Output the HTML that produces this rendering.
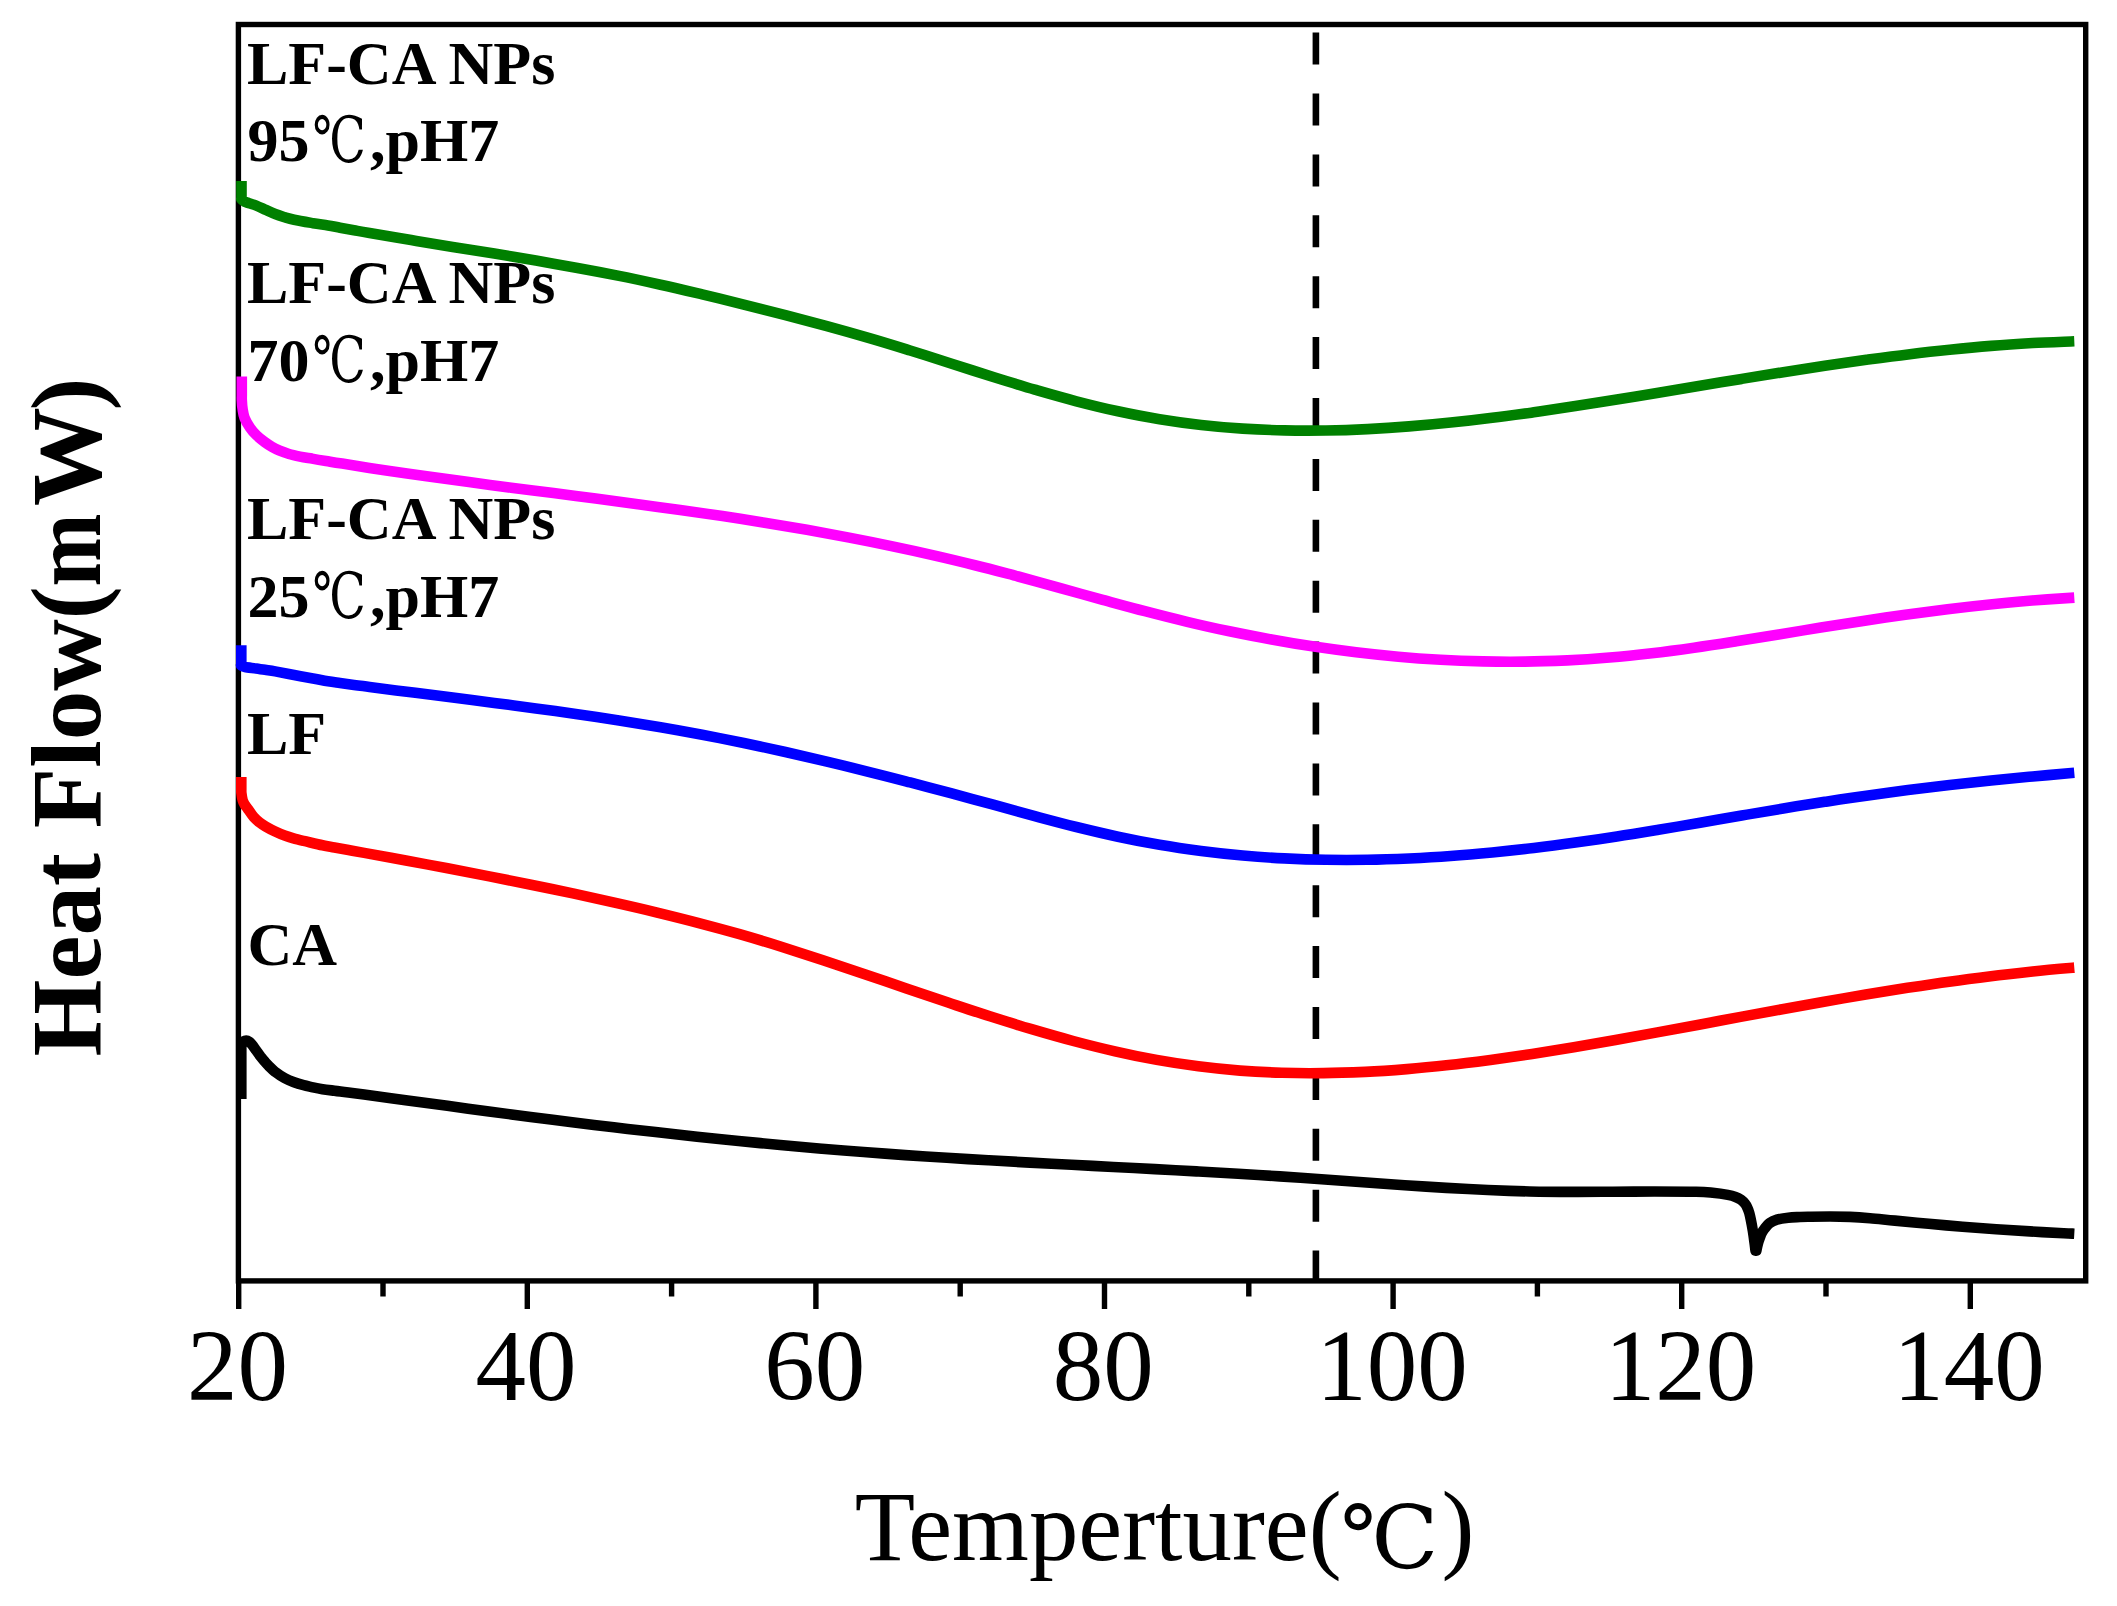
<!DOCTYPE html>
<html lang="en"><head><meta charset="utf-8"><title>DSC thermograms of CA, LF and LF-CA NPs</title>
<style>
html,body{margin:0;padding:0;background:#fff;}
body{width:2117px;height:1606px;overflow:hidden;}
svg{display:block;}
text{font-family:"Liberation Serif","Noto Serif CJK SC",serif;fill:#000;}
.lab{font-weight:bold;font-size:62px;}
.deg{font-size:63.7px;font-weight:normal;font-family:"DejaVu Serif","Liberation Serif","Noto Serif CJK SC",serif;}
.tick{font-size:101px;text-anchor:middle;}
.xt{font-size:98.8px;}
.degx{font-family:"DejaVu Serif","Liberation Serif","Noto Serif CJK SC",serif;font-size:87.5px;}
.yt{font-size:99px;font-weight:bold;}
</style></head><body>
<svg width="2117" height="1606" viewBox="0 0 2117 1606">
<rect x="0" y="0" width="2117" height="1606" fill="#ffffff"/>
<text class="lab" x="247.0" y="83.8">LF-CA NPs</text>
<text class="lab" x="247.5" y="160.9">95<tspan class="deg" dx="3" dy="1" textLength="53.3" lengthAdjust="spacingAndGlyphs">℃</tspan><tspan dx="4.2" dy="-1">,pH7</tspan></text>
<text class="lab" x="247.0" y="303.0">LF-CA NPs</text>
<text class="lab" x="247.5" y="380.9">70<tspan class="deg" dx="3" dy="1" textLength="53.3" lengthAdjust="spacingAndGlyphs">℃</tspan><tspan dx="4.2" dy="-1">,pH7</tspan></text>
<text class="lab" x="247.0" y="538.6">LF-CA NPs</text>
<text class="lab" x="247.5" y="617.3">25<tspan class="deg" dx="3" dy="1" textLength="53.3" lengthAdjust="spacingAndGlyphs">℃</tspan><tspan dx="4.2" dy="-1">,pH7</tspan></text>
<text class="lab" x="247.0" y="754.2">LF</text>
<text class="lab" x="247.5" y="965.2">CA</text>
<line x1="1315.9" y1="32.6" x2="1315.9" y2="1280.9" stroke="#000" stroke-width="6.6" stroke-dasharray="32 28.9"/>
<rect x="238.4" y="24.5" width="1847.3" height="1256.4" fill="none" stroke="#000" stroke-width="5.4"/>
<path d="M238.7 1280.9V1308.9M383.0 1280.9V1296.4M527.3 1280.9V1308.9M671.6 1280.9V1296.4M815.9 1280.9V1308.9M960.2 1280.9V1296.4M1104.5 1280.9V1308.9M1248.8 1280.9V1296.4M1393.1 1280.9V1308.9M1537.4 1280.9V1296.4M1681.7 1280.9V1308.9M1826.0 1280.9V1296.4M1970.3 1280.9V1308.9" stroke="#000" stroke-width="5.4" fill="none"/>
<g fill="none" stroke-width="10.6" stroke-linejoin="round" stroke-linecap="butt">
<path d="M241.5 181.1L241.5 198.6C241.5 198.7 241.0 198.8 241.5 199.3C242.0 199.8 243.2 200.9 244.5 201.6C245.8 202.2 247.0 202.5 249.0 203.2C251.0 203.9 253.5 204.5 256.3 205.6C259.1 206.7 262.7 208.5 265.8 209.9C268.9 211.3 272.1 212.8 275.2 214.0C278.3 215.2 281.4 216.2 284.5 217.2C287.6 218.1 289.4 218.7 294.1 219.7C298.9 220.7 307.4 222.2 313.0 223.2C318.6 224.1 323.5 224.7 328.0 225.4C332.5 226.1 335.7 226.9 340.0 227.7C344.3 228.5 349.1 229.3 354.0 230.2C358.9 231.1 360.1 231.4 369.6 233.0C379.1 234.6 397.4 237.8 411.2 240.1C425.0 242.4 438.8 244.6 452.7 246.9C466.6 249.1 480.4 251.3 494.3 253.6C508.2 255.9 522.0 258.2 535.9 260.6C549.8 263.0 563.6 265.4 577.5 268.0C591.4 270.5 605.2 273.1 619.1 275.9C633.0 278.7 646.8 281.7 660.6 284.7C674.5 287.8 688.3 291.1 702.2 294.4C716.1 297.7 729.9 301.2 743.8 304.6C757.7 308.1 771.5 311.6 785.4 315.1C799.2 318.7 813.0 322.3 826.9 326.1C840.8 329.9 854.6 333.8 868.5 337.9C882.4 341.9 896.2 346.2 910.1 350.5C924.0 354.8 937.8 359.3 951.7 363.7C965.6 368.1 979.4 372.6 993.3 377.0C1007.1 381.3 1020.9 385.6 1034.8 389.7C1048.7 393.7 1062.5 397.7 1076.4 401.3C1090.3 404.9 1104.1 408.3 1118.0 411.3C1131.9 414.3 1145.7 417.0 1159.6 419.2C1173.5 421.5 1187.3 423.4 1201.2 424.9C1215.1 426.5 1228.9 427.7 1242.7 428.6C1256.5 429.5 1270.4 430.1 1284.3 430.4C1298.2 430.7 1312.0 430.7 1325.9 430.5C1339.8 430.3 1353.7 429.8 1367.5 429.1C1381.3 428.4 1395.2 427.5 1409.0 426.4C1422.8 425.4 1436.7 424.1 1450.6 422.6C1464.5 421.2 1478.3 419.6 1492.2 417.8C1506.1 416.1 1519.9 414.2 1533.8 412.3C1547.7 410.3 1561.6 408.2 1575.4 406.1C1589.2 404.0 1603.1 401.8 1616.9 399.5C1630.8 397.3 1644.6 395.0 1658.5 392.7C1672.4 390.4 1686.2 388.1 1700.1 385.8C1714.0 383.5 1727.8 381.2 1741.7 378.9C1755.6 376.6 1769.5 374.3 1783.3 372.2C1797.1 370.0 1810.9 367.8 1824.8 365.7C1838.7 363.7 1852.5 361.7 1866.4 359.8C1880.3 357.9 1894.1 356.0 1908.0 354.4C1921.9 352.7 1935.8 351.1 1949.6 349.7C1963.4 348.3 1977.2 347.0 1991.1 345.9C2004.9 344.7 2018.8 343.8 2032.7 343.0C2046.6 342.3 2067.4 341.6 2074.3 341.3" stroke="#008000"/>
<path d="M241.8 376.4L241.8 396C241.8 396.7 241.7 397.8 241.8 400.0C241.9 402.2 242.1 406.0 242.6 409.0C243.1 412.0 243.4 414.9 244.6 418.0C245.8 421.1 247.9 424.5 249.9 427.4C251.9 430.3 254.0 432.9 256.5 435.3C259.0 437.8 262.2 440.2 264.8 442.1C267.4 444.0 269.5 445.4 272.0 446.8C274.5 448.2 276.9 449.5 279.7 450.7C282.5 451.9 285.6 453.0 289.0 454.0C292.4 455.0 296.2 455.8 300.0 456.6C303.8 457.4 307.7 457.9 312.0 458.6C316.3 459.4 321.0 460.2 326.0 461.0C331.0 461.8 332.4 462.1 342.2 463.6C351.9 465.2 370.4 468.1 384.5 470.2C398.6 472.3 412.6 474.3 426.7 476.3C440.8 478.3 454.9 480.2 469.0 482.1C483.1 484.0 497.1 485.8 511.2 487.7C525.3 489.5 539.4 491.3 553.5 493.1C567.6 495.0 581.6 496.8 595.7 498.6C609.8 500.4 623.9 502.3 638.0 504.2C652.1 506.1 666.1 508.0 680.2 510.0C694.3 512.0 708.4 514.0 722.5 516.1C736.6 518.2 750.6 520.4 764.7 522.7C778.8 525.0 792.8 527.3 806.9 529.8C821.0 532.3 835.1 534.9 849.2 537.6C863.3 540.3 877.3 543.1 891.4 546.1C905.5 549.0 919.6 552.1 933.7 555.4C947.8 558.6 961.8 562.0 975.9 565.5C990.0 569.0 1004.1 572.8 1018.2 576.5C1032.3 580.3 1046.3 584.2 1060.4 588.1C1074.5 592.0 1088.6 596.0 1102.7 599.9C1116.8 603.7 1130.8 607.6 1144.9 611.2C1159.0 614.9 1173.1 618.5 1187.2 621.8C1201.3 625.2 1215.3 628.3 1229.4 631.3C1243.5 634.2 1257.5 637.0 1271.6 639.5C1285.7 642.1 1299.8 644.5 1313.9 646.6C1328.0 648.7 1342.0 650.6 1356.1 652.3C1370.2 654.0 1384.3 655.5 1398.4 656.7C1412.5 658.0 1426.5 659.0 1440.6 659.8C1454.7 660.6 1468.8 661.1 1482.9 661.4C1497.0 661.7 1511.0 661.8 1525.1 661.6C1539.2 661.5 1553.3 661.0 1567.4 660.4C1581.5 659.7 1595.5 658.7 1609.6 657.5C1623.7 656.4 1637.7 654.9 1651.8 653.2C1665.9 651.6 1680.0 649.7 1694.1 647.7C1708.2 645.7 1722.2 643.5 1736.3 641.3C1750.4 639.1 1764.5 636.8 1778.6 634.5C1792.7 632.2 1806.7 629.8 1820.8 627.6C1834.9 625.3 1849.0 623.1 1863.1 620.9C1877.2 618.8 1891.2 616.8 1905.3 614.8C1919.4 612.9 1933.5 611.0 1947.6 609.3C1961.7 607.5 1975.7 605.9 1989.8 604.5C2003.9 603.0 2018.0 601.7 2032.1 600.5C2046.2 599.4 2067.3 598.1 2074.3 597.6" stroke="#ff00ff"/>
<path d="M241.3 645.2L241.3 664.8C241.3 664.9 240.7 665.2 241.3 665.6C241.9 666.0 242.5 666.5 245.0 667.0C247.5 667.5 253.0 668.1 256.3 668.6C259.6 669.1 261.9 669.3 265.0 669.8C268.1 670.3 270.3 670.5 275.2 671.4C280.1 672.3 287.8 673.8 294.1 675.0C300.4 676.2 307.4 677.5 313.0 678.5C318.6 679.5 323.5 680.6 328.0 681.3C332.5 682.0 335.7 682.4 340.0 683.0C344.3 683.6 349.1 684.2 354.0 684.9C358.9 685.5 360.1 685.7 369.6 687.0C379.1 688.2 397.4 690.6 411.2 692.3C425.0 694.1 438.8 695.8 452.7 697.6C466.6 699.3 480.4 701.1 494.3 702.9C508.2 704.7 522.0 706.5 535.9 708.4C549.8 710.3 563.6 712.2 577.5 714.2C591.4 716.2 605.2 718.3 619.1 720.4C633.0 722.6 646.8 724.9 660.6 727.2C674.5 729.6 688.3 732.1 702.2 734.7C716.1 737.4 729.9 740.1 743.8 743.0C757.7 745.9 771.5 748.9 785.4 752.0C799.2 755.1 813.0 758.3 826.9 761.6C840.8 764.9 854.6 768.3 868.5 771.8C882.4 775.2 896.2 778.8 910.1 782.4C924.0 786.0 937.8 789.7 951.7 793.4C965.6 797.1 979.4 801.0 993.3 804.7C1007.1 808.5 1020.9 812.4 1034.8 816.1C1048.7 819.8 1062.5 823.5 1076.4 827.0C1090.3 830.4 1104.1 833.7 1118.0 836.7C1131.9 839.7 1145.7 842.4 1159.6 844.8C1173.5 847.2 1187.3 849.2 1201.2 851.0C1215.1 852.8 1228.9 854.3 1242.7 855.5C1256.5 856.7 1270.4 857.7 1284.3 858.4C1298.2 859.1 1312.0 859.6 1325.9 859.8C1339.8 860.0 1353.7 860.0 1367.5 859.8C1381.3 859.6 1395.2 859.1 1409.0 858.5C1422.8 857.8 1436.7 857.0 1450.6 856.0C1464.5 855.0 1478.3 853.8 1492.2 852.5C1506.1 851.1 1519.9 849.6 1533.8 847.9C1547.7 846.3 1561.6 844.5 1575.4 842.6C1589.2 840.7 1603.1 838.6 1616.9 836.5C1630.8 834.4 1644.6 832.1 1658.5 829.8C1672.4 827.5 1686.2 825.1 1700.1 822.7C1714.0 820.4 1727.8 817.9 1741.7 815.5C1755.6 813.2 1769.5 810.8 1783.3 808.5C1797.1 806.2 1810.9 803.9 1824.8 801.8C1838.7 799.7 1852.5 797.6 1866.4 795.7C1880.3 793.7 1894.1 791.9 1908.0 790.1C1921.9 788.4 1935.8 786.7 1949.6 785.1C1963.4 783.5 1977.2 782.1 1991.1 780.6C2004.9 779.2 2018.8 777.8 2032.7 776.5C2046.6 775.2 2067.4 773.4 2074.3 772.8" stroke="#0000ff"/>
<path d="M241.3 777.1L241.3 790C241.3 790.5 241.2 791.3 241.4 793.0C241.6 794.7 242.1 798.1 242.6 800.0C243.1 801.9 243.8 803.1 244.6 804.5C245.4 805.9 246.1 806.5 247.6 808.6C249.1 810.7 251.7 814.7 253.7 817.0C255.7 819.3 257.5 820.8 259.5 822.4C261.5 824.0 263.2 825.1 265.8 826.6C268.4 828.1 272.1 830.1 275.2 831.6C278.3 833.1 281.6 834.5 284.7 835.6C287.8 836.7 290.4 837.5 293.5 838.4C296.6 839.3 298.8 839.8 303.6 840.9C308.4 842.0 317.4 844.2 322.5 845.3C327.6 846.4 330.2 846.7 334.5 847.5C338.8 848.3 343.6 849.1 348.5 850.0C353.4 850.9 354.6 851.1 364.2 852.9C373.8 854.6 392.0 857.9 405.9 860.5C419.8 863.1 433.7 865.7 447.6 868.3C461.5 871.0 475.4 873.7 489.3 876.4C503.2 879.1 517.1 881.9 531.0 884.7C544.9 887.6 558.9 890.5 572.8 893.4C586.7 896.4 600.6 899.4 614.5 902.6C628.4 905.7 642.3 908.9 656.2 912.3C670.1 915.7 684.0 919.1 697.9 922.8C711.8 926.4 725.7 930.2 739.6 934.2C753.5 938.2 767.4 942.4 781.3 946.7C795.2 951.1 809.1 955.6 823.0 960.2C836.9 964.8 850.8 969.5 864.7 974.2C878.6 978.9 892.5 983.7 906.4 988.4C920.3 993.2 934.2 997.9 948.1 1002.6C962.0 1007.2 976.0 1011.9 989.9 1016.3C1003.8 1020.7 1017.7 1025.1 1031.6 1029.2C1045.5 1033.3 1059.4 1037.3 1073.3 1041.0C1087.2 1044.7 1101.1 1048.2 1115.0 1051.3C1128.9 1054.5 1142.8 1057.4 1156.7 1059.9C1170.6 1062.4 1184.5 1064.5 1198.4 1066.3C1212.3 1068.1 1226.2 1069.5 1240.1 1070.6C1254.0 1071.6 1267.9 1072.3 1281.8 1072.8C1295.7 1073.2 1309.6 1073.3 1323.5 1073.1C1337.4 1073.0 1351.3 1072.5 1365.2 1071.9C1379.1 1071.2 1393.0 1070.2 1406.9 1069.1C1420.8 1068.0 1434.8 1066.6 1448.7 1065.1C1462.6 1063.6 1476.5 1061.8 1490.4 1060.0C1504.3 1058.1 1518.2 1056.1 1532.1 1054.0C1546.0 1051.8 1559.9 1049.6 1573.8 1047.2C1587.7 1044.9 1601.6 1042.5 1615.5 1040.0C1629.4 1037.5 1643.3 1035.0 1657.2 1032.4C1671.1 1029.9 1685.0 1027.3 1698.9 1024.7C1712.8 1022.1 1726.7 1019.5 1740.6 1016.9C1754.5 1014.3 1768.4 1011.7 1782.3 1009.2C1796.2 1006.7 1810.1 1004.2 1824.0 1001.7C1837.9 999.3 1851.9 996.9 1865.8 994.6C1879.7 992.2 1893.6 990.0 1907.5 987.8C1921.4 985.7 1935.3 983.6 1949.2 981.7C1963.1 979.7 1977.0 977.9 1990.9 976.2C2004.8 974.4 2018.7 972.9 2032.6 971.4C2046.5 970.0 2067.4 968.2 2074.3 967.6" stroke="#ff0000"/>
<path d="M241.3 1098.9L241.3 1046.5C241.4 1046.0 241.3 1044.6 241.6 1043.8C241.9 1043.0 242.4 1042.1 243.2 1041.6C244.0 1041.1 245.2 1040.6 246.2 1040.6C247.2 1040.6 248.3 1041.1 249.3 1041.8C250.3 1042.5 250.9 1043.3 252.0 1044.6C253.1 1045.9 254.2 1047.6 255.6 1049.6C257.0 1051.5 258.9 1054.3 260.4 1056.3C261.9 1058.2 263.1 1059.7 264.5 1061.3C265.9 1062.9 266.8 1064.0 268.6 1065.8C270.4 1067.6 272.5 1069.9 275.2 1071.9C277.9 1074.0 281.5 1076.4 284.7 1078.1C287.9 1079.8 291.0 1081.1 294.1 1082.3C297.2 1083.5 300.5 1084.4 303.6 1085.2C306.8 1086.0 309.9 1086.6 313.0 1087.3C316.1 1088.0 318.9 1088.6 322.5 1089.2C326.1 1089.8 330.2 1090.2 334.5 1090.7C338.8 1091.3 343.6 1091.9 348.5 1092.5C353.4 1093.1 354.6 1093.3 364.1 1094.5C373.6 1095.8 391.8 1098.3 405.7 1100.2C419.6 1102.0 433.5 1104.0 447.4 1105.8C461.3 1107.7 475.1 1109.6 489.0 1111.5C502.9 1113.3 516.7 1115.2 530.6 1116.9C544.5 1118.7 558.3 1120.5 572.2 1122.2C586.1 1124.0 599.9 1125.6 613.8 1127.3C627.7 1128.9 641.6 1130.6 655.5 1132.1C669.4 1133.7 683.2 1135.2 697.1 1136.7C711.0 1138.2 724.8 1139.6 738.7 1141.0C752.6 1142.4 766.4 1143.7 780.3 1145.0C794.2 1146.3 808.1 1147.5 822.0 1148.7C835.9 1149.8 849.7 1151.0 863.6 1152.0C877.5 1153.1 891.3 1154.1 905.2 1155.1C919.1 1156.0 932.9 1156.9 946.8 1157.8C960.7 1158.7 974.5 1159.5 988.4 1160.3C1002.3 1161.1 1016.2 1161.9 1030.1 1162.6C1044.0 1163.4 1057.8 1164.1 1071.7 1164.8C1085.6 1165.5 1099.4 1166.3 1113.3 1167.0C1127.2 1167.7 1141.0 1168.4 1154.9 1169.1C1168.8 1169.9 1182.6 1170.6 1196.5 1171.4C1210.4 1172.2 1224.3 1173.0 1238.2 1173.8C1252.1 1174.6 1265.9 1175.5 1279.8 1176.4C1293.7 1177.3 1307.5 1178.3 1321.4 1179.2C1335.3 1180.2 1349.1 1181.2 1363.0 1182.2C1376.9 1183.2 1390.8 1184.3 1404.7 1185.2C1418.6 1186.1 1432.4 1187.1 1446.3 1187.9C1460.2 1188.7 1474.0 1189.4 1487.9 1190.0C1501.8 1190.6 1515.6 1191.1 1529.5 1191.5C1543.4 1191.8 1557.2 1191.9 1571.1 1191.9C1585.0 1192.0 1598.9 1191.8 1612.8 1191.7C1626.7 1191.7 1640.5 1191.5 1654.4 1191.5C1668.3 1191.5 1686.3 1191.5 1696.0 1191.8C1705.7 1192.0 1707.4 1192.3 1712.7 1192.8C1718.0 1193.3 1724.0 1194.2 1727.8 1194.9C1731.6 1195.6 1733.3 1196.1 1735.5 1196.9C1737.7 1197.7 1739.5 1198.7 1741.0 1199.8C1742.5 1200.9 1743.7 1202.1 1744.8 1203.4C1745.9 1204.7 1746.7 1206.2 1747.4 1207.8C1748.2 1209.4 1748.8 1211.1 1749.3 1213.0C1749.8 1214.9 1750.1 1216.2 1750.7 1219.1C1751.3 1222.0 1752.2 1226.7 1752.8 1230.5C1753.4 1234.3 1754.0 1238.5 1754.4 1241.8C1754.9 1245.1 1755.3 1249.1 1755.5 1250.6L1756.4 1250.6C1756.6 1249.5 1757.2 1246.1 1757.8 1244.0C1758.3 1241.9 1759.0 1239.8 1759.7 1238.0C1760.4 1236.2 1760.9 1234.5 1761.7 1233.0C1762.5 1231.5 1763.0 1230.6 1764.3 1229.0C1765.6 1227.4 1767.3 1224.8 1769.4 1223.2C1771.5 1221.6 1773.8 1220.5 1776.9 1219.6C1780.1 1218.7 1784.5 1218.1 1788.3 1217.7C1792.1 1217.3 1796.2 1217.2 1800.0 1217.0C1803.8 1216.8 1805.9 1216.8 1810.9 1216.7C1815.9 1216.6 1823.5 1216.5 1830.0 1216.5C1836.5 1216.5 1843.3 1216.6 1850.0 1216.9C1856.7 1217.2 1862.5 1217.6 1870.0 1218.2C1877.5 1218.8 1885.2 1219.7 1895.0 1220.6C1904.8 1221.5 1917.5 1222.8 1928.7 1223.8C1940.0 1224.8 1951.2 1225.8 1962.5 1226.7C1973.8 1227.6 1985.0 1228.4 1996.2 1229.2C2007.5 1230.0 2018.8 1230.7 2030.0 1231.4C2041.2 1232.1 2056.3 1232.8 2063.7 1233.2C2071.1 1233.6 2072.5 1233.6 2074.3 1233.7" stroke="#000000"/>
</g>
<text class="tick" x="237.5" y="1400.3">20</text>
<text class="tick" x="526.1" y="1400.3">40</text>
<text class="tick" x="814.7" y="1400.3">60</text>
<text class="tick" x="1103.3" y="1400.3">80</text>
<text class="tick" x="1391.9" y="1400.3">100</text>
<text class="tick" x="1680.5" y="1400.3">120</text>
<text class="tick" x="1969.1" y="1400.3">140</text>
<text class="xt" x="854.8" y="1559.8">Temperture(<tspan class="degx" x="1340.6" y="1567.8">℃</tspan><tspan x="1441.4" y="1559.8">)</tspan></text>
<text class="yt" transform="translate(99.5,1056.5) rotate(-90)">Heat Flow(<tspan textLength="73" lengthAdjust="spacingAndGlyphs">m</tspan><tspan dx="7.2">W</tspan><tspan dx="-3.3">)</tspan></text>
</svg></body></html>
